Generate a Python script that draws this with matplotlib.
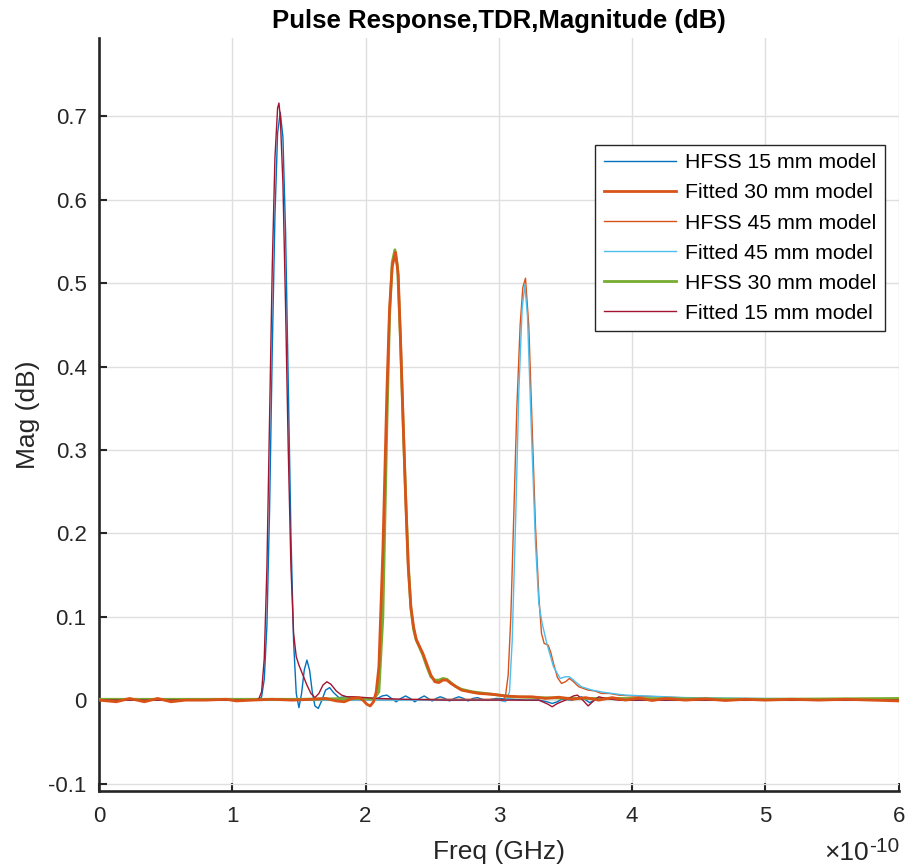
import matplotlib
matplotlib.use("Agg")
import matplotlib.pyplot as plt

plt.rcParams['font.family'] = ['Liberation Sans', 'DejaVu Sans']

# time axis in units of 1e-10 s
t_hfss15 = [0, 0.5, 1.0, 1.15, 1.20, 1.22, 1.24, 1.26, 1.28, 1.30, 1.32, 1.34, 1.36, 1.38, 1.40,
            1.42, 1.44, 1.46, 1.48, 1.50, 1.52, 1.54, 1.56, 1.58, 1.60, 1.62, 1.645, 1.67, 1.70,
            1.73, 1.76, 1.80, 1.85, 1.90, 1.95, 2.00, 2.05, 2.09, 2.125, 2.16, 2.195, 2.23, 2.265,
            2.30, 2.335, 2.37, 2.405, 2.44, 2.47, 2.50, 2.53, 2.56, 2.595, 2.63, 2.665, 2.70, 2.735,
            2.77, 2.805, 2.84, 2.875, 2.91, 2.98, 3.10, 3.20, 3.30, 3.36, 3.40, 3.44, 3.47, 3.55,
            3.62, 3.68, 3.75, 3.85, 4.0, 4.5, 5.0, 5.5, 6.0]
y_hfss15 = [0.000, 0.000, 0.000, 0.000, 0.000, 0.004, 0.025, 0.09, 0.23, 0.42, 0.58, 0.68, 0.705, 0.675, 0.56,
            0.38, 0.20, 0.07, 0.008, -0.009, 0.008, 0.036, 0.048, 0.036, 0.010, -0.007, -0.010, -0.001, 0.012,
            0.015, 0.009, 0.003, 0.004, 0.003, 0.001, 0.002, 0.000, 0.002, 0.005, 0.006, 0.002, -0.002, 0.002,
            0.005, 0.002, -0.002, 0.002, 0.005, 0.002, -0.001, 0.002, 0.004, 0.002, -0.001, 0.002, 0.004, 0.002,
            -0.001, 0.002, 0.003, 0.001, 0.000, 0.002, 0.001, 0.000, 0.000, -0.002, -0.004, -0.002, 0.001, 0.000,
            0.004, -0.003, 0.002, 0.001, 0.000, 0.000, 0.000, 0.000, 0.000]

t_fit30 = [0, 0.13, 0.23, 0.34, 0.44, 0.54, 0.65, 0.80, 0.955, 1.03, 1.15, 1.30, 1.45, 1.60, 1.70,
           1.78, 1.84, 1.90, 1.95, 1.98, 2.01, 2.035, 2.06, 2.08, 2.10, 2.13, 2.16, 2.18, 2.20, 2.225,
           2.245, 2.265, 2.285, 2.30, 2.32, 2.34, 2.36, 2.38, 2.40, 2.43, 2.46, 2.49, 2.52, 2.55, 2.58,
           2.61, 2.64, 2.68, 2.72, 2.78, 2.85, 2.95, 3.05, 3.15, 3.25, 3.35, 3.45, 3.55, 3.65, 3.75,
           3.85, 3.95, 4.05, 4.15, 4.25, 4.40, 4.55, 4.70, 4.85, 5.00, 5.20, 5.40, 5.60, 5.80, 6.0]
y_fit30 = [0.000, -0.002, 0.002, -0.002, 0.002, -0.002, 0.000, 0.000, 0.001, -0.001, 0.000, 0.001, 0.000, 0.001, 0.002,
           -0.001, -0.002, 0.002, 0.003, 0.000, -0.005, -0.007, -0.002, 0.010, 0.040, 0.18, 0.37, 0.47, 0.52, 0.537,
           0.51, 0.42, 0.32, 0.245, 0.16, 0.112, 0.088, 0.073, 0.066, 0.056, 0.043, 0.030, 0.022, 0.021, 0.024,
           0.024, 0.020, 0.016, 0.012, 0.010, 0.008, 0.007, 0.005, 0.004, 0.004, 0.002, 0.0035, 0.001, 0.003, 0.000,
           0.003, 0.000, 0.0025, -0.0005, 0.002, 0.000, 0.0015, -0.0005, 0.001, 0.000, 0.001, 0.000, 0.001, 0.000, -0.001]

t_hfss45 = [0, 1.0, 2.0, 2.5, 3.00, 3.03, 3.05, 3.07, 3.09, 3.11, 3.135, 3.16, 3.18, 3.20, 3.225,
            3.25, 3.275, 3.30, 3.32, 3.34, 3.37, 3.39, 3.41, 3.44, 3.47, 3.50, 3.53, 3.56, 3.60, 3.67,
            3.72, 3.77, 3.83, 3.90, 4.0, 4.2, 4.5, 5.0, 6.0]
y_hfss45 = [0.000, 0.000, 0.000, 0.001, 0.001, 0.000, 0.005, 0.03, 0.10, 0.21, 0.35, 0.45, 0.495, 0.506, 0.448,
            0.328, 0.208, 0.125, 0.080, 0.068, 0.066, 0.057, 0.044, 0.027, 0.020, 0.022, 0.026, 0.022, 0.016, 0.012,
            0.011, 0.008, 0.008, 0.006, 0.005, 0.004, 0.002, 0.001, 0.000]

t_fit45 = [0, 1.0, 2.0, 2.5, 3.00, 3.05, 3.08, 3.10, 3.125, 3.15, 3.175, 3.195, 3.215, 3.245, 3.275,
           3.30, 3.325, 3.36, 3.41, 3.46, 3.50, 3.53, 3.56, 3.62, 3.70, 3.80, 3.95, 4.1, 4.4, 5.0, 6.0]
y_fit45 = [0.000, 0.000, 0.000, 0.000, 0.000, -0.002, 0.010, 0.07, 0.21, 0.37, 0.47, 0.498, 0.46, 0.32, 0.188,
           0.116, 0.092, 0.068, 0.040, 0.026, 0.028, 0.028, 0.024, 0.016, 0.012, 0.009, 0.006, 0.005, 0.003, 0.002, 0.001]

t_hfss30 = [0, 0.5, 1.0, 1.5, 1.9, 2.00, 2.06, 2.10, 2.13, 2.16, 2.18, 2.20, 2.22, 2.24, 2.26,
            2.28, 2.30, 2.32, 2.34, 2.36, 2.38, 2.40, 2.43, 2.46, 2.49, 2.52, 2.55, 2.58, 2.61, 2.64,
            2.68, 2.72, 2.80, 2.90, 3.00, 3.10, 3.30, 3.60, 4.0, 5.0, 6.0]
y_hfss30 = [0.001, 0.001, 0.001, 0.001, 0.002, 0.002, 0.001, 0.010, 0.10, 0.33, 0.46, 0.525, 0.540, 0.52, 0.44,
            0.34, 0.25, 0.165, 0.110, 0.085, 0.072, 0.065, 0.054, 0.040, 0.028, 0.024, 0.024, 0.026, 0.025, 0.021,
            0.016, 0.013, 0.010, 0.008, 0.006, 0.004, 0.003, 0.002, 0.002, 0.001, 0.002]

t_fit15 = [0, 1.0, 1.18, 1.20, 1.22, 1.24, 1.26, 1.28, 1.30, 1.32, 1.34, 1.35, 1.36, 1.38, 1.40,
           1.42, 1.44, 1.46, 1.48, 1.50, 1.53, 1.56, 1.59, 1.62, 1.65, 1.68, 1.71, 1.74, 1.78, 1.82,
           1.86, 1.92, 2.00, 2.10, 2.30, 2.60, 3.00, 3.30, 3.37, 3.40, 3.44, 3.50, 3.56, 3.59, 3.63,
           3.67, 3.71, 3.75, 3.80, 3.90, 6.0]
y_fit15 = [0.000, 0.000, 0.000, 0.002, 0.010, 0.05, 0.16, 0.34, 0.52, 0.65, 0.71, 0.716, 0.70, 0.62, 0.47,
           0.30, 0.16, 0.08, 0.052, 0.042, 0.030, 0.018, 0.008, 0.003, 0.008, 0.018, 0.022, 0.019, 0.011, 0.006,
           0.004, 0.004, 0.003, 0.002, 0.001, 0.000, 0.000, 0.000, -0.005, -0.008, -0.004, 0.000, 0.005, 0.006, 0.000,
           -0.007, -0.001, 0.004, 0.002, 0.000, 0.000]

xticks = [0, 1, 2, 3, 4, 5, 6]
yticks = [-0.1, 0, 0.1, 0.2, 0.3, 0.4, 0.5, 0.6, 0.7]
ytick_labels = ['-0.1', '0', '0.1', '0.2', '0.3', '0.4', '0.5', '0.6', '0.7']

TXT = '#262626'
fig = plt.figure(figsize=(9.05, 8.68), dpi=100)
ax = fig.add_axes([0.1094, 0.0887, 0.8836, 0.8675])

ax.plot(t_hfss15, y_hfss15, color='#0072BD', lw=1.0, label='HFSS 15 mm model', zorder=3)
ax.plot(t_fit30, y_fit30, color='#D95319', lw=2.0, label='Fitted 30 mm model', zorder=5)
ax.plot(t_hfss45, y_hfss45, color='#D95319', lw=1.0, label='HFSS 45 mm model', zorder=3)
ax.plot(t_fit45, y_fit45, color='#4DBEEE', lw=1.0, label='Fitted 45 mm model', zorder=4)
ax.plot(t_hfss30, y_hfss30, color='#77AC30', lw=2.0, label='HFSS 30 mm model', zorder=4)
ax.plot(t_fit15, y_fit15, color='#A2142F', lw=1.0, label='Fitted 15 mm model', zorder=4)

ax.set_xlim(0, 6)
ax.set_ylim(-0.109, 0.794)
ax.set_xticks(xticks)
ax.set_xticklabels([str(v) for v in xticks])
ax.set_yticks(yticks)
ax.set_yticklabels(ytick_labels)
ax.grid(True, color='#dfdfdf', lw=1.0)
ax.set_axisbelow(True)
for s in ['top', 'right']:
    ax.spines[s].set_visible(False)
for s in ['left', 'bottom']:
    ax.spines[s].set_linewidth(1.9)
    ax.spines[s].set_color(TXT)
ax.tick_params(direction='in', length=6, width=1.5, colors=TXT, labelsize=16,
               labelcolor=TXT)
ax.tick_params(axis='y', pad=9)
ax.tick_params(axis='x', pad=11)

ax.set_xlabel('Freq (GHz)', fontsize=19, color=TXT, labelpad=9)
ax.set_ylabel('Mag (dB)', fontsize=19, color=TXT, labelpad=6)
ax.set_title('Pulse Response,TDR,Magnitude (dB)', fontsize=18.5, fontweight='bold', pad=7)
fig.text(0.9595, 0.003, '\u00d710', ha='right', va='bottom', fontsize=19, color=TXT)
fig.text(0.9605, 0.014, '-10', ha='left', va='bottom', fontsize=15, color=TXT)

leg = ax.legend(loc='upper right', bbox_to_anchor=(0.983, 0.858), borderaxespad=0,
                fontsize=15.3, handlelength=3.4, handletextpad=0.45, labelspacing=0.52,
                fancybox=False, framealpha=1, edgecolor=TXT, borderpad=0.4)
leg.get_frame().set_linewidth(1.0)

fig.savefig('out.png', dpi=100)
